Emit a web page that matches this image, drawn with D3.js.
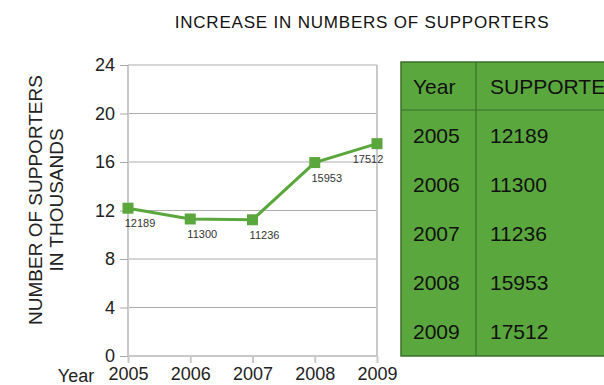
<!DOCTYPE html>
<html>
<head>
<meta charset="utf-8">
<script src="https://cdn.jsdelivr.net/npm/d3@7"></script>
<style>
  body { margin: 0; background: #fff; }
  svg { display: block; font-family: "Liberation Sans", Arial, Helvetica, sans-serif; }
</style>
</head>
<body>
<div id="chart"></div>
<script>
// data
const years = ['2005', '2006', '2007', '2008', '2009'];
const supporters = [12189, 11300, 11236, 15953, 17512];
const yTicks = [0, 4, 8, 12, 16, 20, 24];
const tableHeader = ['Year', 'SUPPORTERS'];

const width = 604, height = 385;
const green = '#5aa73d';
const font = '"Liberation Sans", Arial, sans-serif';

const svg = d3.select('#chart').append('svg')
  .attr('width', width)
  .attr('height', height);

const x = d3.scalePoint().domain(years).range([128, 377]);
const y = d3.scaleLinear().domain([0, 24]).range([356, 65]);

// title
svg.append('text')
  .attr('x', 362).attr('y', 28)
  .attr('text-anchor', 'middle')
  .style('font-size', '17px')
  .style('letter-spacing', '0.8px')
  .attr('fill', '#111')
  .text('INCREASE IN NUMBERS OF SUPPORTERS');

// gridlines
svg.append('g').selectAll('line')
  .data(yTicks.slice(1))
  .enter().append('line')
  .attr('x1', x.range()[0]).attr('x2', x.range()[1])
  .attr('y1', d => y(d)).attr('y2', d => y(d))
  .attr('stroke', '#adadad').attr('stroke-width', 1);

// frame (left, bottom, right)
svg.append('path')
  .attr('d', `M${x.range()[0]},${y(24)}V${y(0)}H${x.range()[1]}V${y(24)}`)
  .attr('fill', 'none')
  .attr('stroke', '#c9c9c9').attr('stroke-width', 2);

// y axis
const yAxis = svg.append('g')
  .attr('transform', `translate(${x.range()[0]},0)`)
  .call(d3.axisLeft(y).tickValues(yTicks).tickSize(8).tickPadding(5));
yAxis.select('.domain').remove();
yAxis.selectAll('line').attr('stroke', '#a8a8a8');
yAxis.selectAll('text')
  .style('font-size', '18px')
  .style('font-family', font)
  .attr('fill', '#222');

// x axis
const xAxis = svg.append('g')
  .attr('transform', `translate(0,${y(0)})`)
  .call(d3.axisBottom(x).tickSize(7).tickPadding(4));
xAxis.select('.domain').remove();
xAxis.selectAll('line').attr('stroke', '#c9c9c9').attr('stroke-width', 2);
xAxis.selectAll('text')
  .style('font-size', '18px')
  .style('font-family', font)
  .attr('fill', '#222');

svg.append('text')
  .attr('x', 76).attr('y', 382)
  .attr('text-anchor', 'middle')
  .style('font-size', '18px')
  .attr('fill', '#222')
  .text('Year');

// y axis title
const yTitle = svg.append('text')
  .attr('transform', 'translate(0,200) rotate(-90)')
  .attr('text-anchor', 'middle')
  .style('font-size', '19px')
  .attr('fill', '#222');
yTitle.append('tspan').attr('x', 0).attr('y', 42).text('NUMBER OF SUPPORTERS');
yTitle.append('tspan').attr('x', 0).attr('y', 63).text('IN THOUSANDS');

// line
const pts = years.map((yr, i) => ({ yr, v: supporters[i] }));
svg.append('path')
  .datum(pts)
  .attr('fill', 'none')
  .attr('stroke', green)
  .attr('stroke-width', 3)
  .attr('d', d3.line().x(d => x(d.yr)).y(d => y(d.v / 1000)));

const ms = 11;
svg.append('g').selectAll('rect')
  .data(pts)
  .enter().append('rect')
  .attr('x', d => x(d.yr) - ms / 2)
  .attr('y', d => y(d.v / 1000) - ms / 2)
  .attr('width', ms).attr('height', ms)
  .attr('fill', green);

// point labels
svg.append('g').selectAll('text')
  .data(pts)
  .enter().append('text')
  .attr('x', d => Math.min(x(d.yr) + 12, x.range()[1] - 9))
  .attr('y', d => y(d.v / 1000) + 19)
  .attr('text-anchor', 'middle')
  .style('font-size', '11px')
  .attr('fill', '#333')
  .text(d => d.v);

// table
const tx = 401, ty = 62, tw = 220, th = 294;
const headH = 48, rowH = (th - headH) / years.length;
const colX = 476;
const table = svg.append('g');
table.append('rect')
  .attr('x', tx).attr('y', ty).attr('width', tw).attr('height', th)
  .attr('fill', green).attr('stroke', '#3d6f2c').attr('stroke-width', 1.5);
table.append('line')
  .attr('x1', tx).attr('x2', tx + tw)
  .attr('y1', ty + headH).attr('y2', ty + headH)
  .attr('stroke', '#3d6f2c').attr('stroke-width', 1.2);
table.append('line')
  .attr('x1', colX).attr('x2', colX)
  .attr('y1', ty).attr('y2', ty + th)
  .attr('stroke', '#3d6f2c').attr('stroke-width', 1.2);

table.selectAll('text.head')
  .data(tableHeader)
  .enter().append('text')
  .attr('x', (d, i) => i === 0 ? 413 : 490)
  .attr('y', ty + headH / 2 + 8)
  .style('font-size', '21px')
  .attr('fill', '#111')
  .text(d => d);

const rows = table.selectAll('g.row')
  .data(pts)
  .enter().append('g')
  .attr('transform', (d, i) => `translate(0,${ty + headH + rowH * (i + 0.5) + 8})`);
rows.append('text').attr('x', 413)
  .style('font-size', '21px').attr('fill', '#111')
  .text(d => d.yr);
rows.append('text').attr('x', 490)
  .style('font-size', '21px').attr('fill', '#111')
  .text(d => d.v);
</script>
</body>
</html>
